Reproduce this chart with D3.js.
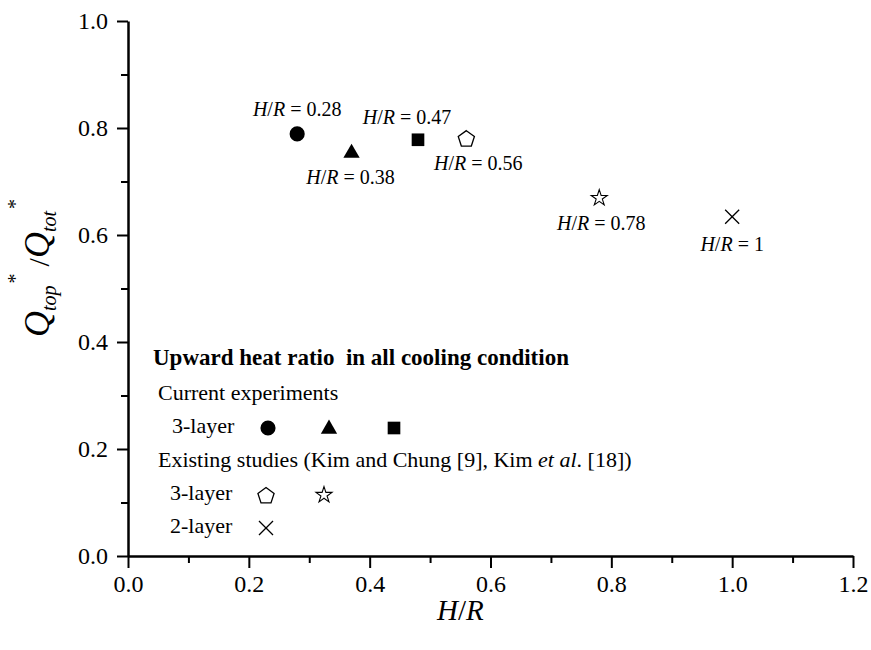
<!DOCTYPE html>
<html>
<head>
<meta charset="utf-8">
<script src="https://cdn.jsdelivr.net/npm/d3@7"></script>
<style>
  body { margin: 0; background: #fff; }
  text { font-family: "Liberation Serif", "Times New Roman", serif; fill: #000; }
</style>
</head>
<body>
<div id="chart"></div>
<script>
// data
const ratioHR   = [0.28, 0.37, 0.48, 0.56, 0.78, 1.0];
const upwardQ   = [0.789, 0.755, 0.778, 0.781, 0.669, 0.634];
const markers   = ["circle", "triangle", "square", "pentagon", "star", "cross"];
const labelText = ["0.28", "0.38", "0.47", "0.56", "0.78", "1"];
// label offset relative to point (dx, dy)
const labelPos  = [[0, -23], [-1, 27], [-11, -21], [12, 27], [2, 27], [0, 29]];

const xTicks = [0, 0.2, 0.4, 0.6, 0.8, 1.0, 1.2];
const yTicks = [0, 0.2, 0.4, 0.6, 0.8, 1.0];

const W = 871, H = 650;
const margin = {top: 21, right: 18, bottom: 94, left: 128};

const svg = d3.select("#chart").append("svg")
    .attr("width", W).attr("height", H);

const x = d3.scaleLinear().domain([0, 1.2]).range([margin.left, W - margin.right]);
const y = d3.scaleLinear().domain([0, 1.0]).range([H - margin.bottom, margin.top]);

// minor ticks
svg.append("g")
    .attr("transform", `translate(0,${y(0)})`)
    .call(d3.axisBottom(x).tickValues(d3.range(0.1, 1.2, 0.2)).tickSize(7).tickFormat(""))
    .call(g => g.select(".domain").remove())
    .selectAll("line").attr("stroke-width", 2);
svg.append("g")
    .attr("transform", `translate(${x(0)},0)`)
    .call(d3.axisLeft(y).tickValues(d3.range(0.1, 1.0, 0.2)).tickSize(7).tickFormat(""))
    .call(g => g.select(".domain").remove())
    .selectAll("line").attr("stroke-width", 2);

// major axes
const xAxis = svg.append("g")
    .attr("transform", `translate(0,${y(0)})`)
    .call(d3.axisBottom(x).tickValues(xTicks).tickSize(12).tickSizeOuter(0).tickPadding(6)
        .tickFormat(d3.format(".1f")));
const yAxis = svg.append("g")
    .attr("transform", `translate(${x(0)},0)`)
    .call(d3.axisLeft(y).tickValues(yTicks).tickSize(11).tickSizeOuter(0).tickPadding(9)
        .tickFormat(d3.format(".1f")));

[xAxis, yAxis].forEach(a => {
    a.attr("font-size", 24).attr("font-family", "'Liberation Serif', serif");
    a.select(".domain").attr("stroke-width", 2.5);
    a.selectAll("line").attr("stroke-width", 2);
    a.selectAll("text").style("font-size", "24px");
});
xAxis.selectAll("text").attr("dy", "0.76em");

// marker shapes
function pentagon(r) {
    const pts = d3.range(5).map(i => {
        const a = -Math.PI / 2 + i * 2 * Math.PI / 5;
        return [r * Math.cos(a), r * Math.sin(a) + 1];
    });
    return "M" + pts.join("L") + "Z";
}
function drawMarker(sel, type) {
    if (type === "circle") {
        sel.append("path").attr("d", d3.symbol(d3.symbolCircle, 180)()).attr("fill", "#000");
    } else if (type === "triangle") {
        sel.append("path").attr("d", d3.symbol(d3.symbolTriangle, 115)()).attr("fill", "#000")
            .attr("transform", "translate(0,1)");
    } else if (type === "square") {
        sel.append("path").attr("d", d3.symbol(d3.symbolSquare, 160)()).attr("fill", "#000");
    } else if (type === "pentagon") {
        sel.append("path").attr("d", pentagon(8.5)).attr("fill", "none")
            .attr("stroke", "#000").attr("stroke-width", 1.3);
    } else if (type === "star") {
        sel.append("path").attr("d", d3.symbol(d3.symbolStar, 80)()).attr("fill", "none")
            .attr("stroke", "#000").attr("stroke-width", 1.1);
    } else if (type === "cross") {
        sel.append("path").attr("d", d3.symbol(d3.symbolTimes, 130)()).attr("fill", "none")
            .attr("stroke", "#000").attr("stroke-width", 1.3);
    }
}

// points
const points = svg.append("g").selectAll("g")
    .data(ratioHR.map((v, i) => ({hr: v, q: upwardQ[i], m: markers[i], lab: labelText[i], off: labelPos[i]})))
    .join("g")
    .attr("transform", d => `translate(${x(d.hr)},${y(d.q)})`);
points.each(function(d) { drawMarker(d3.select(this), d.m); });

// point labels
const labs = points.append("text")
    .attr("x", d => d.off[0]).attr("y", d => d.off[1])
    .attr("text-anchor", "middle").attr("dominant-baseline", "middle")
    .attr("font-size", 20);
labs.append("tspan").attr("font-style", "italic").text("H");
labs.append("tspan").text("/");
labs.append("tspan").attr("font-style", "italic").text("R");
labs.append("tspan").text(d => " = " + d.lab);

// axis titles
const xt = svg.append("text")
    .attr("x", x(0.55)).attr("y", 620)
    .attr("text-anchor", "middle").attr("font-size", 29);
xt.append("tspan").attr("font-style", "italic").text("H");
xt.append("tspan").text("/");
xt.append("tspan").attr("font-style", "italic").text("R");

const yt = svg.append("text")
    .attr("transform", "translate(49,268) rotate(-90)")
    .attr("text-anchor", "middle");
yt.append("tspan").attr("font-style", "italic").attr("font-size", 36).text("Q");
yt.append("tspan").attr("font-style", "italic").attr("font-size", 20).attr("dy", 7).text("top");
yt.append("tspan").attr("font-size", 20).attr("dy", -34).attr("dx", 2).text("*");
yt.append("tspan").attr("font-size", 30).attr("dy", 27).attr("dx", 7).text("/");
yt.append("tspan").attr("font-style", "italic").attr("font-size", 36).attr("dy", 0).text("Q");
yt.append("tspan").attr("font-style", "italic").attr("font-size", 20).attr("dy", 7).text("tot");
yt.append("tspan").attr("font-size", 20).attr("dy", -34).attr("dx", 2).text("*");

// legend
const legendRows = [
    {t: "title", y: 360},
    {t: "Current experiments", y: 395, x: 158},
    {t: "3-layer", y: 428, x: 172, m: [["circle", 268], ["triangle", 329], ["square", 394]]},
    {t: "Existing", y: 462, x: 158},
    {t: "3-layer", y: 495, x: 170, m: [["pentagon", 266], ["star", 324]]},
    {t: "2-layer", y: 528, x: 170, m: [["cross", 266]]}
];
const lg = svg.append("g");
legendRows.forEach(r => {
    if (r.t === "title") {
        lg.append("text").attr("x", 153).attr("y", r.y).attr("dominant-baseline", "middle")
            .attr("font-size", 23).attr("font-weight", "bold")
            .text("Upward heat ratio\u00a0 in all cooling condition");
        return;
    }
    const t = lg.append("text").attr("x", r.x).attr("y", r.y)
        .attr("dominant-baseline", "middle").attr("font-size", 22);
    if (r.t === "Existing") {
        t.append("tspan").text("Existing studies (Kim and Chung [9], Kim ");
        t.append("tspan").attr("font-style", "italic").text("et al");
        t.append("tspan").text(". [18])");
    } else {
        t.text(r.t);
    }
    (r.m || []).forEach(([m, mx]) => {
        drawMarker(lg.append("g").attr("transform", `translate(${mx},${r.y})`), m);
    });
});
</script>
</body>
</html>
